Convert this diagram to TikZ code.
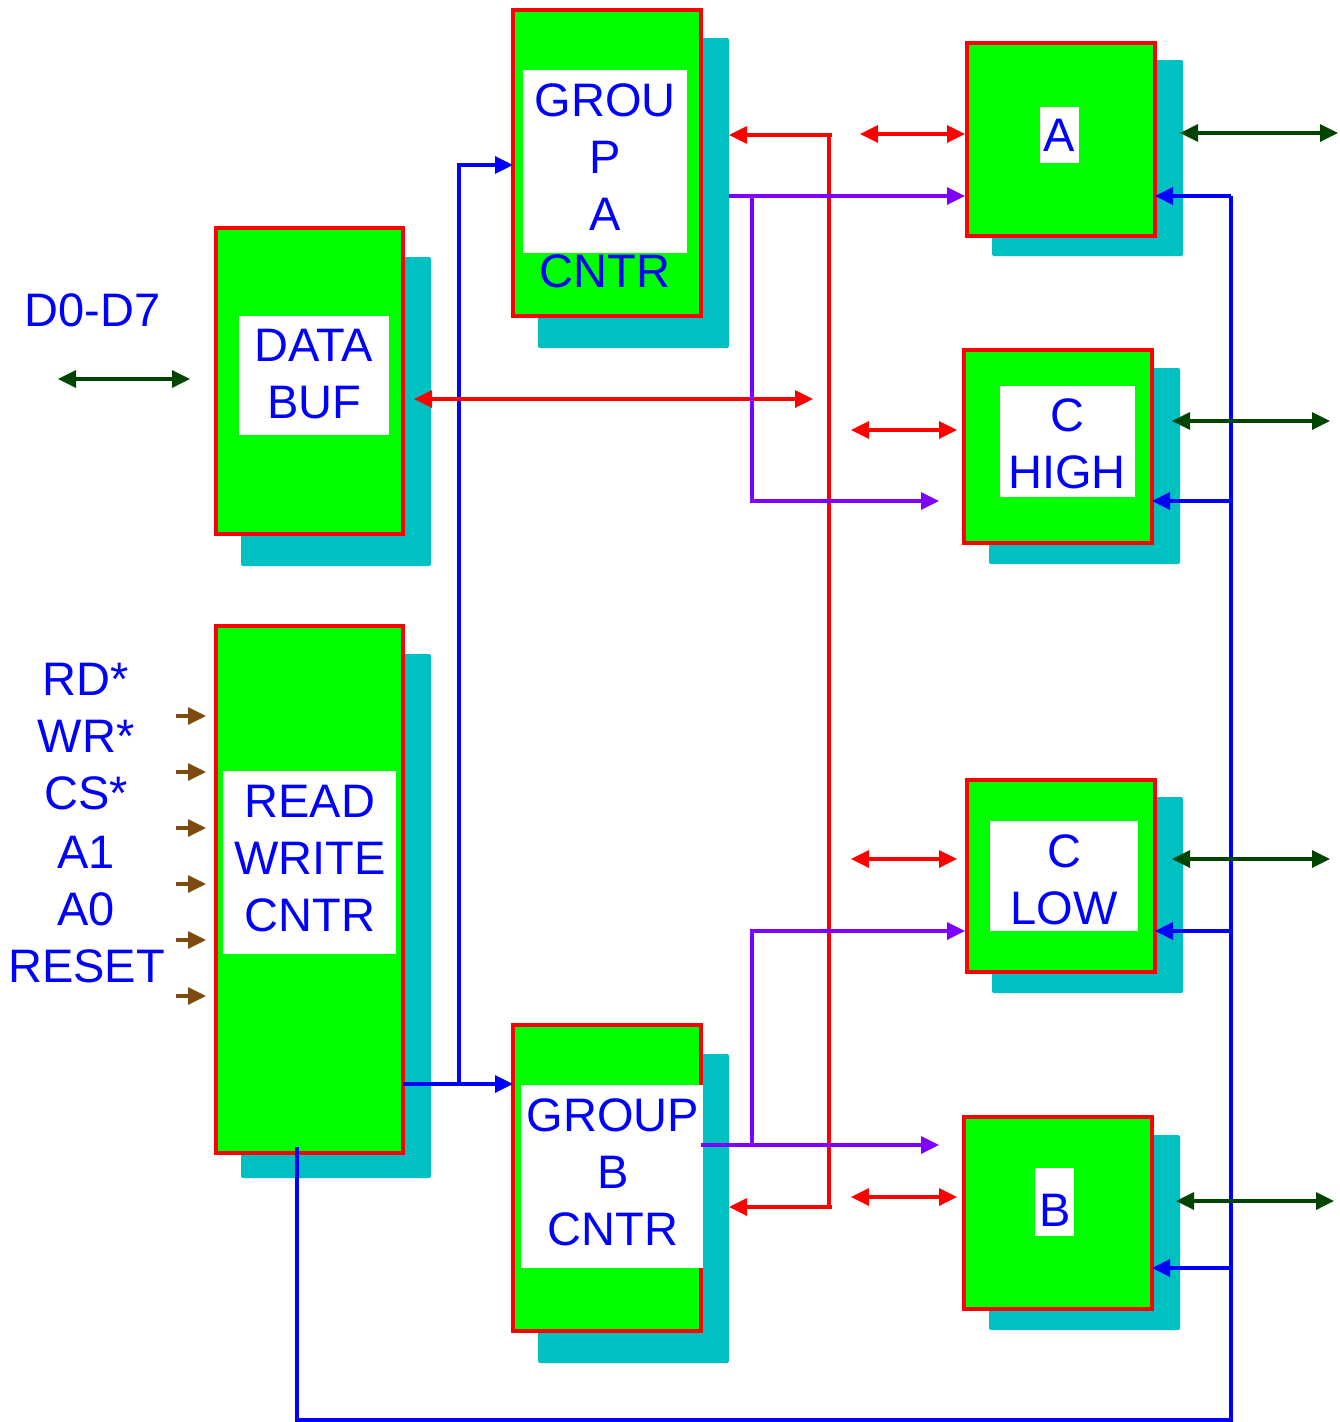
\documentclass[tikz,border=0pt]{standalone}
\usepackage{fontspec}
\setmainfont{Liberation Sans}
\usetikzlibrary{arrows.meta}
\definecolor{gr}{HTML}{00FF00}
\definecolor{sh}{HTML}{00C0C2}
\definecolor{rd}{HTML}{FF0000}
\definecolor{bl}{HTML}{0000FF}
\definecolor{pu}{HTML}{8000FF}
\definecolor{dg}{HTML}{004400}
\definecolor{brn}{HTML}{7F4A10}
\begin{document}
\begin{tikzpicture}[x=1pt,y=-1pt,
  blk/.style={draw=rd,fill=gr,line width=3.5pt,inner sep=0pt,outer sep=0pt},
  shd/.style={fill=sh,inner sep=0pt,outer sep=0pt,draw=none,rounded corners=2pt},
  wht/.style={fill=white,inner sep=0pt,outer sep=0pt,draw=none},
  txt/.style={text=bl,font=\fontsize{47}{57}\selectfont,align=center,inner sep=0pt},
  tipe/.style={-{Triangle[length=18pt,width=17pt]}},
  dtip/.style={{Triangle[length=18pt,width=17pt]}-{Triangle[length=18pt,width=17pt]}},
  wire/.style={line width=3.4pt},
  rw/.style={wire,draw=rd},
  bw/.style={wire,draw=bl},
  pw/.style={wire,draw=pu},
  gw/.style={wire,draw=dg},
  nw/.style={wire,draw=brn}]
\useasboundingbox (0,0) rectangle (1340,1422);
% shadows
\node[shd,minimum width=190pt,minimum height=309pt] (dbs) at (336,411.5) {};
\node[shd,minimum width=191pt,minimum height=310pt] (gpas) at (633.5,193) {};
\node[shd,minimum width=190pt,minimum height=524pt] (rws) at (336,916) {};
\node[shd,minimum width=191pt,minimum height=309pt] (gpbs) at (633.5,1208.5) {};
\node[shd,minimum width=191pt,minimum height=196pt] (pas) at (1087.5,158) {};
\node[shd,minimum width=191pt,minimum height=196pt] (chs) at (1084.5,466) {};
\node[shd,minimum width=191pt,minimum height=196pt] (cls) at (1087.5,895) {};
\node[shd,minimum width=191pt,minimum height=195pt] (pbs) at (1084.5,1232.5) {};
% boxes
\node[blk,minimum width=187pt,minimum height=306pt] (db) at (309.5,381) {};
\node[blk,minimum width=188pt,minimum height=306pt] (gpa) at (607,163) {};
\node[blk,minimum width=187pt,minimum height=527pt] (rwc) at (309.5,889.5) {};
\node[blk,minimum width=188pt,minimum height=306pt] (gpb) at (607,1178) {};
\node[blk,minimum width=188pt,minimum height=193pt] (pa) at (1061,139.5) {};
\node[blk,minimum width=188pt,minimum height=193pt] (ch) at (1058,446.5) {};
\node[blk,minimum width=188pt,minimum height=192pt] (cl) at (1061,876) {};
\node[blk,minimum width=188pt,minimum height=192pt] (pb) at (1058,1213) {};
% white label areas
\node[wht,minimum width=150pt,minimum height=119pt] (dbw) at (314,375.5) {};
\node[wht,minimum width=164pt,minimum height=183pt] (gpaw) at (605,161.5) {};
\node[wht,minimum width=173pt,minimum height=183pt] (rww) at (309.5,862.5) {};
\node[wht,minimum width=182pt,minimum height=183pt] (gpbw) at (612,1176.5) {};
\node[wht,minimum width=39pt,minimum height=56pt] (paw) at (1059.5,135) {};
\node[wht,minimum width=135pt,minimum height=111pt] (chw) at (1067.5,441.5) {};
\node[wht,minimum width=148pt,minimum height=110pt] (clw) at (1064,876) {};
\node[wht,minimum width=39pt,minimum height=68pt] (pbw) at (1054.5,1202) {};
% texts
\node[txt] (dbt) at (314,374.5) {DATA\\BUF};
\node[txt] (gpat) at (605,186) {GROU\\P\\A\\CNTR};
\node[txt] (rwt) at (310,858.5) {READ\\WRITE\\CNTR};
\node[txt] (gpbt) at (613,1172.5) {GROUP\\B\\CNTR};
\node[txt] (pat) at (1059,135) {A};
\node[txt] (cht) at (1067,443.5) {C\\HIGH};
\node[txt] (clt) at (1064,879.5) {C\\LOW};
\node[txt] (pbt) at (1055,1210) {B};
\node[txt] (d07) at (92.5,310) {D0-D7};
\node[txt] (lrd) at (86,679) {RD*};
\node[txt] (lwr) at (86,736) {WR*};
\node[txt] (lcs) at (86,793) {CS*};
\node[txt] (la1) at (86,852) {A1};
\node[txt] (la0) at (86,909) {A0};
\node[txt] (lrs) at (86.5,966) {RESET};
% control input arrows
\foreach \yy/\nm in {716/ia,772/ib,828/ic,884/id,940/ie,996/iff}{
  \coordinate (\nm) at (176,\yy);
  \draw[nw,tipe] (\nm) -- ([xshift=-10pt]rwc.west |- \nm);
}
% data bus arrow
\coordinate (dl) at (58,379);
\coordinate (dr) at (190,379);
\draw[gw,dtip] (dl) -- (dr);
% blue control lines
\coordinate (j1) at (459,1084);
\coordinate (j2) at (459,165);
\draw[bw,tipe] (rwc.east |- j1) -- (gpb.west |- j1);
\draw[bw,tipe] (j1) -- (j2) -- (gpa.west |- j2);
\coordinate (rwb) at (297,1147);
\coordinate (c1) at (297,1420);
\coordinate (c2) at (1231,1420);
\coordinate (bA) at (1231,196);
\coordinate (bCH) at (1231,501);
\coordinate (bCL) at (1231,931);
\coordinate (bB) at (1231,1268);
\draw[bw] (rwb) -- (c1) -- (c2) -- (bA);
\draw[bw,tipe] (bA) -- (pa.east |- bA);
\draw[bw,tipe] (bCH) -- (ch.east |- bCH);
\draw[bw,tipe] (bCL) -- (cl.east |- bCL);
\draw[bw,tipe] (bB) -- (pb.east |- bB);
% red internal bus
\coordinate (rt) at (829,135);
\coordinate (rb) at (829,1207);
\draw[rw] ([yshift=-1.5pt]rt) -- ([yshift=1.5pt]rb);
\draw[rw,tipe] ([xshift=3pt]rt) -- (gpas.east |- rt);
\draw[rw,tipe] ([xshift=3pt]rb) -- (gpbs.east |- rb);
\coordinate (dbx) at (414,399);
\coordinate (dbe) at (813,399);
\draw[rw,dtip] (dbx) -- (dbe);
\coordinate (rA) at (860,134);
\coordinate (rCH) at (851,430);
\coordinate (rCL) at (851,859);
\coordinate (rB) at (851,1197);
\draw[rw,dtip] (rA) -- ([xshift=-2pt]pa.west |- rA);
\draw[rw,dtip] (rCH) -- ([xshift=-7pt]ch.west |- rCH);
\draw[rw,dtip] (rCL) -- ([xshift=-10pt]cl.west |- rCL);
\draw[rw,dtip] (rB) -- ([xshift=-7pt]pb.west |- rB);
% purple
\coordinate (pA) at (727,196);
\coordinate (pj1) at (752,196);
\coordinate (pj2) at (752,501);
\coordinate (pe1) at (939,501);
\draw[pw,tipe] (gpas.east |- pA) -- ([xshift=-2pt]pa.west |- pA);
\draw[pw,tipe] (pj1) -- (pj2) -- (pe1);
\coordinate (pB) at (700,1145);
\coordinate (pj3) at (752,1145);
\coordinate (pj4) at (752,931);
\coordinate (pe2) at (939,1145);
\draw[pw,tipe] (gpb.east |- pB) -- (pe2);
\draw[pw,tipe] (pj3) -- (pj4) -- ([xshift=-2pt]cl.west |- pj4);
% dark green port arrows
\coordinate (gA) at (1338,133);
\coordinate (gCH) at (1330,421);
\coordinate (gCL) at (1330,859);
\coordinate (gB) at (1334,1201);
\draw[gw,dtip] ([xshift=-3pt]pas.east |- gA) -- (gA);
\draw[gw,dtip] ([xshift=-8pt]chs.east |- gCH) -- (gCH);
\draw[gw,dtip] ([xshift=-11pt]cls.east |- gCL) -- (gCL);
\draw[gw,dtip] ([xshift=-4pt]pbs.east |- gB) -- (gB);
\end{tikzpicture}
\end{document}
